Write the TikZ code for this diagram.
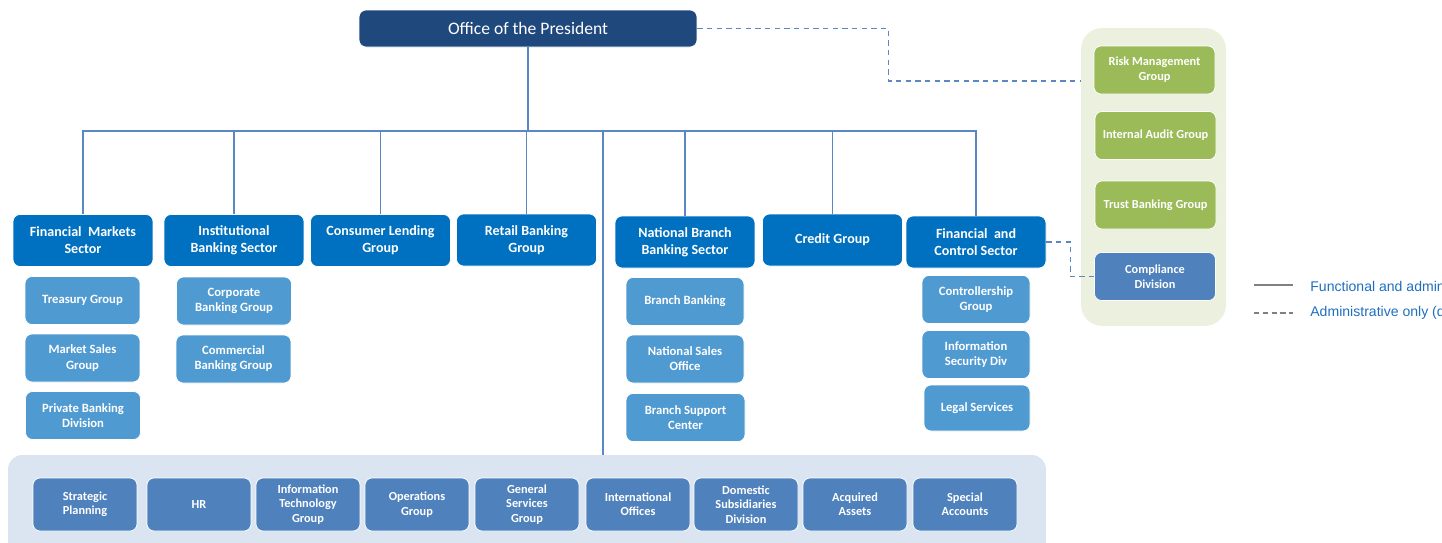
\documentclass[tikz,border=0pt]{standalone}
\usepackage{fontspec}
\setsansfont{Carlito}
\newfontfamily\legendfont{Liberation Sans}
\renewcommand{\familydefault}{\sfdefault}

\definecolor{presblue}{HTML}{1F497D}
\definecolor{sectblue}{HTML}{0070C0}
\definecolor{unitblue}{HTML}{509AD2}
\definecolor{staffblue}{HTML}{4F81BD}
\definecolor{panelblue}{HTML}{DBE5F1}
\definecolor{panelgreen}{HTML}{EBF1DE}
\definecolor{auditgreen}{HTML}{9BBB59}
\definecolor{linkblue}{HTML}{5B87C5}
\definecolor{keytext}{HTML}{1F6FBF}

\tikzset{
  box/.style={rectangle, rounded corners=4pt, draw=white, line width=0.4pt,
    text=white, align=center, inner sep=1pt},
  presbox/.style={box, fill=presblue, minimum width=6.76cm, minimum height=0.74cm,
    font=\fontsize{10}{12}\selectfont},
  sectbox/.style={box, fill=sectblue, minimum width=2.8cm, minimum height=1.04cm,
    font=\fontsize{8}{9.6}\selectfont\bfseries},
  unitbox/.style={box, fill=unitblue, minimum width=2.3cm, minimum height=0.96cm,
    font=\fontsize{7.2}{8.6}\selectfont\bfseries},
  greenbox/.style={box, fill=auditgreen, minimum width=2.42cm, minimum height=0.96cm,
    font=\fontsize{7}{8.4}\selectfont\bfseries},
  staffbox/.style={box, fill=staffblue, minimum width=2.08cm, minimum height=1.06cm,
    font=\fontsize{7}{8.2}\selectfont\bfseries},
  orgline/.style={draw=linkblue, line width=0.8pt},
  adminline/.style={draw=linkblue, line width=0.8pt, dash pattern=on 3pt off 2.5pt},
  keyline/.style={draw=gray, line width=0.8pt},
}

\begin{document}
\begin{tikzpicture}[x=0.02cm, y=-0.02cm]
\useasboundingbox (0,0) rectangle (1442,542);
\clip (0,0) rectangle (1442,542);

% background panels
\node[rectangle, rounded corners=12pt, fill=panelgreen, minimum width=2.9cm, minimum height=5.96cm] (staff) at (1153.5,177) {};
\node[rectangle, rounded corners=8pt, fill=panelblue, minimum width=20.76cm, minimum height=2.2cm] (support) at (527,510) {};

% top
\node[presbox] (pres) at (528,28.5) {Office of the President};

% sectors
\node[sectbox] (fms) at (83,240.5) {Financial~~Markets\\Sector};
\node[sectbox] (ibs) at (234,240.5) {Institutional\\Banking Sector};
\node[sectbox] (clg) at (380.5,240.5) {Consumer Lending\\Group};
\node[sectbox] (rbg) at (526.5,240) {Retail Banking\\Group};
\node[sectbox] (nbs) at (685,242) {National Branch\\Banking Sector};
\node[sectbox] (crg) at (832.5,240) {Credit Group};
\node[sectbox] (fcs) at (976,242) {Financial~~and\\Control Sector};

% units under the sectors
\node[unitbox] (tre) at (82.5,300.5) {Treasury Group};
\node[unitbox] (mks) at (82.5,358) {Market Sales\\Group};
\node[unitbox] (pbd) at (83,415.5) {Private Banking\\Division};
\node[unitbox] (cbg) at (234,301) {Corporate\\Banking Group};
\node[unitbox] (cmb) at (233.5,359) {Commercial\\Banking Group};
\node[unitbox, minimum width=2.36cm] (brb) at (685,301.5) {Branch Banking};
\node[unitbox, minimum width=2.36cm] (nso) at (685,359) {National Sales\\Office};
\node[unitbox, minimum width=2.38cm] (bsc) at (685.5,417.5) {Branch Support\\Center};
\node[unitbox, minimum width=2.16cm] (ctl) at (976,299.5) {Controllership\\Group};
\node[unitbox, minimum width=2.16cm] (isd) at (976,354.5) {Information\\Security Div};
\node[unitbox, minimum width=2.12cm, minimum height=0.92cm] (lgs) at (977,408) {Legal Services};

% staff units along the bottom
\node[staffbox] (stp) at (85,504.5) {Strategic\\Planning};
\node[staffbox] (hrs) at (199,504.5) {HR};
\node[staffbox] (itg) at (308,504.5) {Information\\Technology\\Group};
\node[staffbox] (opg) at (417,504.5) {Operations\\Group};
\node[staffbox] (gsg) at (527,504.5) {General\\Services\\Group};
\node[staffbox] (ino) at (638,504.5) {International\\Offices};
\node[staffbox] (dsd) at (746,504.5) {Domestic\\Subsidiaries\\Division};
\node[staffbox] (acq) at (855,504.5) {Acquired\\Assets};
\node[staffbox] (spa) at (965,504.5) {Special\\Accounts};

% groups reporting on the side
\node[greenbox] (rmg) at (1154.5,70) {Risk Management\\Group};
\node[greenbox] (iag) at (1155.5,135.5) {Internal Audit Group};
\node[greenbox] (tbg) at (1155.5,205) {Trust Banking Group};
\node[greenbox, fill=staffblue] (cmp) at (1155,276.5) {Compliance\\Division};

% reporting lines
\coordinate (bus) at (528,131);
\coordinate (drop) at (603,455);
\coordinate (riskin) at (1081,81);
\draw[orgline] (pres.south) -- (bus);
\foreach \s in {fms,ibs,clg,rbg,nbs,crg,fcs}
  \draw[orgline] (\s.north) |- (bus);
\draw[orgline] (drop) |- (bus);
\draw[adminline] (pres.east) -- ++(191,0) |- (riskin);
\draw[adminline] (fcs.east) -- ++(24,0) |- (cmp.west);

% legend
\coordinate (keya) at (1254,285);
\coordinate (keyb) at (1254,313);
\draw[keyline] (keya) -- ++(39,0);
\draw[keyline, dash pattern=on 3pt off 2pt] (keyb) -- ++(39,0);
\node[anchor=west, text=keytext, font=\legendfont\fontsize{8}{10}\selectfont, inner sep=0pt] (keysolid) at (1310,286) {Functional and administrative};
\node[anchor=west, text=keytext, font=\legendfont\fontsize{8}{10}\selectfont, inner sep=0pt] (keydash) at (1310,313) {Administrative only (dashed)};
\end{tikzpicture}
\end{document}
